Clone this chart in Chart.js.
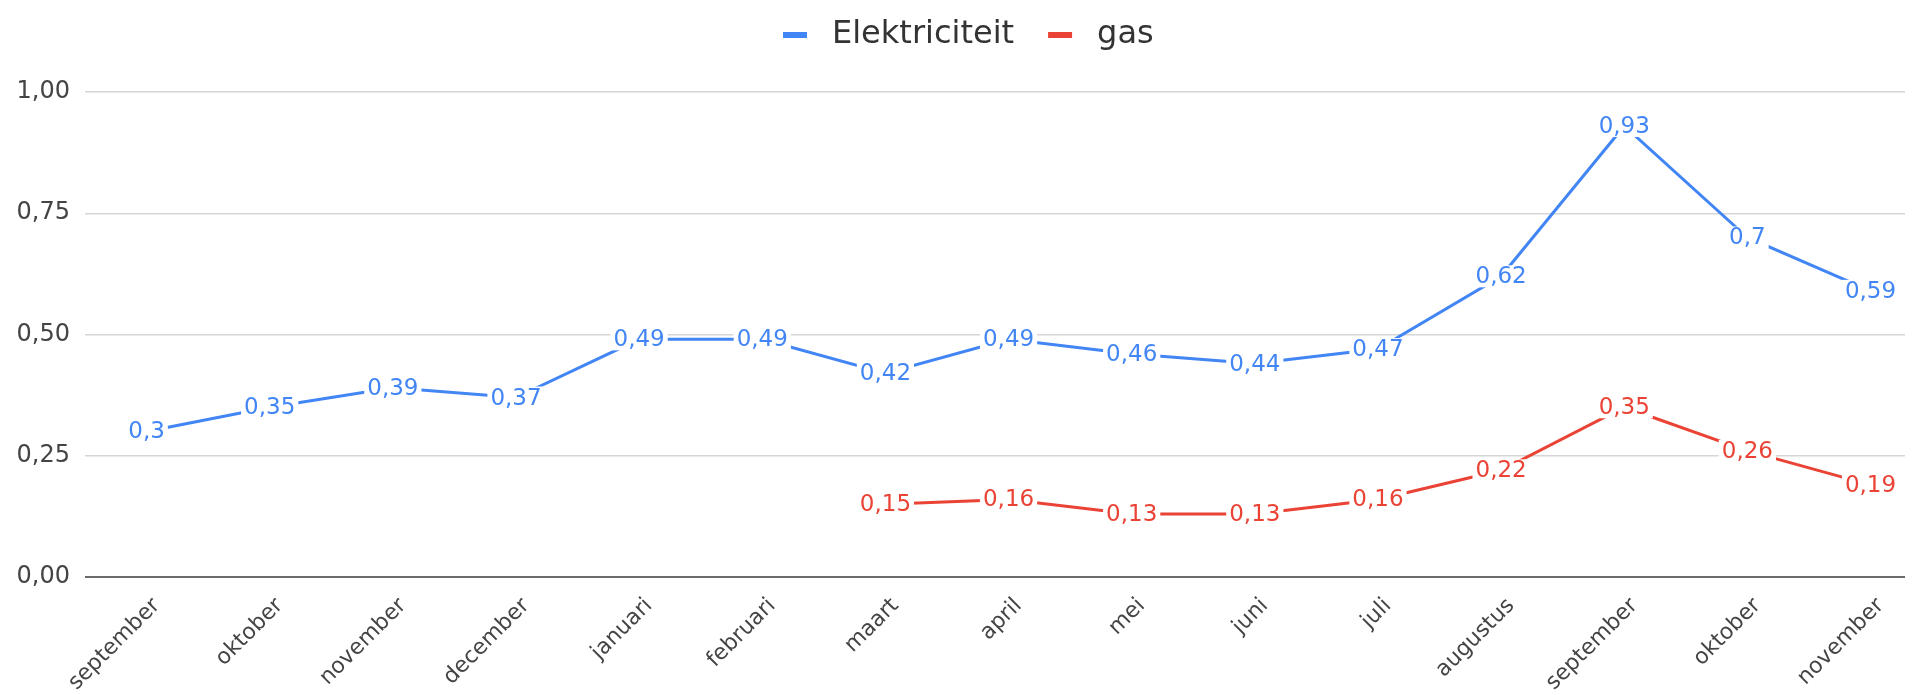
<!DOCTYPE html>
<html>
<head>
<meta charset="utf-8">
<script src="https://cdn.jsdelivr.net/npm/chart.js"></script>
<style>
  html, body { margin: 0; padding: 0; background: #fff; }
  #wrap { position: relative; width: 1918px; height: 695px; }
</style>
</head>
<body>
<div id="wrap"><canvas id="grafiek" width="1918" height="695"></canvas></div>
<script>
const maanden = ['september', 'oktober', 'november', 'december', 'januari', 'februari', 'maart',
    'april', 'mei', 'juni', 'juli', 'augustus', 'september', 'oktober', 'november'];
const elektriciteit = [0.3, 0.35, 0.39, 0.37, 0.49, 0.49, 0.42, 0.49, 0.46, 0.44, 0.47, 0.62, 0.93, 0.7, 0.59];
const gas = [null, null, null, null, null, null, 0.15, 0.16, 0.13, 0.13, 0.16, 0.22, 0.35, 0.26, 0.19];
const yTicks = [0, 0.25, 0.5, 0.75, 1];

const BLAUW = '#4285f4';
const ROOD = '#ea4335';
const FONT = "'DejaVu Sans', sans-serif";

function naarPunten(reeks) {
    return reeks.map((v, i) => ({ x: i, y: v })).filter(p => p.y !== null);
}

function komma(v) {
    return String(v).replace('.', ',');
}

// labels bovenop de lijn, met witte achtergrond zoals in Sheets
const dataLabels = {
    id: 'dataLabels',
    afterDatasetsDraw(chart) {
        const ctx = chart.ctx;
        ctx.save();
        ctx.font = '23px ' + FONT;
        ctx.textAlign = 'center';
        ctx.textBaseline = 'middle';
        chart.data.datasets.forEach((ds, di) => {
            const meta = chart.getDatasetMeta(di);
            meta.data.forEach((el, i) => {
                const tekst = komma(ds.data[i].y);
                const w = ctx.measureText(tekst).width;
                ctx.fillStyle = '#ffffff';
                ctx.fillRect(el.x - w / 2 - 3, el.y - 11, w + 6, 22);
                ctx.fillStyle = ds.borderColor;
                ctx.fillText(tekst, el.x, el.y + 1);
            });
        });
        ctx.restore();
    }
};

// eigen legenda bovenaan (streepje + tekst)
const legenda = {
    id: 'legenda',
    afterDraw(chart) {
        const ctx = chart.ctx;
        ctx.save();
        ctx.font = '32px ' + FONT;
        ctx.textBaseline = 'middle';
        ctx.textAlign = 'left';
        let x = 783;
        const y = 35;
        chart.data.datasets.forEach(ds => {
            ctx.fillStyle = ds.borderColor;
            ctx.fillRect(x, y - 3, 24, 6);
            x += 24 + 25;
            ctx.fillStyle = '#333';
            ctx.fillText(ds.label, x, y);
            x += ctx.measureText(ds.label).width + 34;
        });
        ctx.restore();
    }
};

const ctx = document.getElementById('grafiek').getContext('2d');
new Chart(ctx, {
    type: 'line',
    data: {
        datasets: [
            {
                label: 'Elektriciteit',
                data: naarPunten(elektriciteit),
                borderColor: BLAUW,
                backgroundColor: BLAUW,
                borderWidth: 3,
                pointRadius: 0,
                tension: 0
            },
            {
                label: 'gas',
                data: naarPunten(gas),
                borderColor: ROOD,
                backgroundColor: ROOD,
                borderWidth: 3,
                pointRadius: 0,
                tension: 0
            }
        ]
    },
    options: {
        responsive: false,
        animation: false,
        layout: { padding: { top: 92, right: 13, bottom: 0, left: 0 } },
        scales: {
            x: {
                type: 'linear',
                min: -0.5,
                max: 14.28,
                grid: { display: false },
                border: { display: false },
                ticks: {
                    stepSize: 1,
                    includeBounds: false,
                    autoSkip: false,
                    maxRotation: 45,
                    minRotation: 45,
                    labelOffset: 10,
                    padding: 8,
                    color: '#444',
                    font: { family: FONT, size: 22 },
                    callback: v => Number.isInteger(v) ? maanden[v] : ''
                },
                afterFit(scale) { scale.height = 118; }
            },
            y: {
                min: 0,
                max: 1,
                afterBuildTicks(scale) { scale.ticks = yTicks.map(v => ({ value: v })); },
                grid: {
                    drawTicks: false,
                    color: c => c.tick && c.tick.value === 0 ? '#6b6b6b' : '#d6d6d6',
                    lineWidth: c => c.tick && c.tick.value === 0 ? 2 : 1.5
                },
                border: { display: false },
                ticks: {
                    padding: 15,
                    color: '#444',
                    font: { family: FONT, size: 24 },
                    callback: v => v.toFixed(2).replace('.', ',')
                },
                afterFit(scale) { scale.width = 85; }
            }
        },
        plugins: {
            legend: { display: false },
            tooltip: { enabled: false }
        }
    },
    plugins: [dataLabels, legenda]
});
</script>
</body>
</html>
